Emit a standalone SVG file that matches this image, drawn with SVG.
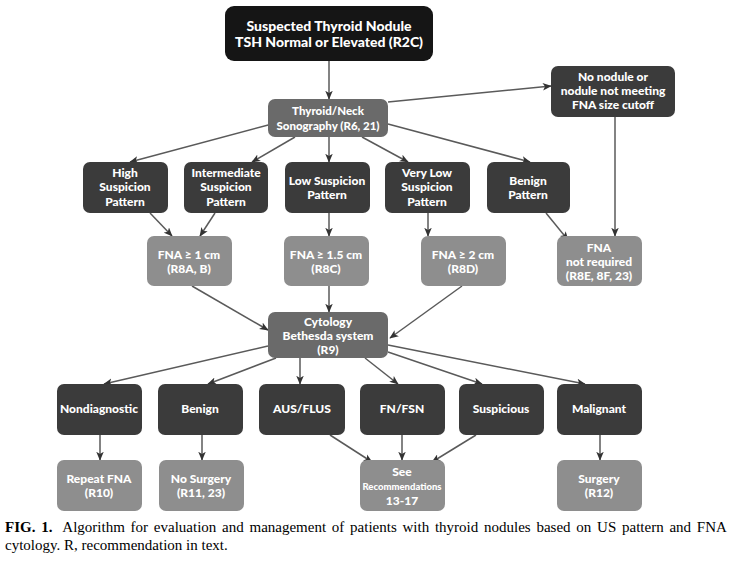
<svg xmlns="http://www.w3.org/2000/svg" width="731" height="567" viewBox="0 0 731 567">
<style>
.t{font-family:Lato,"Liberation Sans",sans-serif;font-weight:900;fill:#fff;text-anchor:middle;font-size:12px}
.big{font-size:14px}
.md{font-size:11.5px}
.sm{font-size:9.5px}
.blk{fill:#151515}
.mid{fill:#6a6a6a}
.drk{fill:#3b3b3b}
.lt{fill:#8e8e8e}
.c line{stroke:#5a5a5a;stroke-width:1.5;marker-end:url(#ah)}
.cap{font-family:"Liberation Serif",serif;font-size:15px;fill:#000}
</style>
<defs>
<marker id="ah" viewBox="0 0 12 10" refX="11" refY="5" markerWidth="9" markerHeight="8" orient="auto" markerUnits="userSpaceOnUse">
<path d="M0,0 L12,5 L0,10 L3,5 Z" fill="#333"/>
</marker>
</defs>
<rect width="731" height="567" fill="#fff"/>
<g class="c">
<line x1="329" y1="61" x2="329" y2="99"/>
<line x1="388" y1="102" x2="551" y2="86"/>
<line x1="272" y1="124" x2="130" y2="162"/>
<line x1="295" y1="137" x2="252" y2="162"/>
<line x1="329" y1="137" x2="329" y2="162"/>
<line x1="362" y1="137" x2="408" y2="162"/>
<line x1="388" y1="124" x2="530" y2="162"/>
<line x1="150" y1="213" x2="172" y2="236"/>
<line x1="215" y1="213" x2="200" y2="236"/>
<line x1="329" y1="213" x2="329" y2="236"/>
<line x1="428" y1="213" x2="428" y2="236"/>
<line x1="546" y1="213" x2="568" y2="240"/>
<line x1="615" y1="117" x2="615" y2="236"/>
<line x1="192" y1="286" x2="268" y2="330"/>
<line x1="329" y1="286" x2="329" y2="312"/>
<line x1="462" y1="286" x2="390" y2="338"/>
<line x1="268" y1="346" x2="104" y2="384"/>
<line x1="276" y1="358" x2="208" y2="384"/>
<line x1="300" y1="358" x2="300" y2="384"/>
<line x1="365" y1="358" x2="398" y2="384"/>
<line x1="388" y1="352" x2="482" y2="384"/>
<line x1="388" y1="345" x2="585" y2="384"/>
<line x1="100" y1="435" x2="100" y2="460"/>
<line x1="202" y1="435" x2="202" y2="460"/>
<line x1="330" y1="435" x2="372" y2="462"/>
<line x1="402" y1="435" x2="402" y2="460"/>
<line x1="476" y1="435" x2="432" y2="462"/>
<line x1="600" y1="435" x2="600" y2="460"/>
</g>
<g id="n-start"><rect class="blk" x="225" y="6" width="208" height="55" rx="9"/>
<text class="t big" x="329" y="31">Suspected Thyroid Nodule</text>
<text class="t big" x="329" y="47">TSH Normal or Elevated (R2C)</text></g>
<g id="n-sono"><rect class="mid" x="268" y="99" width="120" height="38" rx="7"/>
<text class="t md" x="328" y="115">Thyroid/Neck</text>
<text class="t md" x="328" y="130">Sonography (R6, 21)</text></g>
<g id="n-nonodule"><rect class="drk" x="551" y="66" width="124" height="51" rx="7"/>
<text class="t" x="613" y="81">No nodule or</text>
<text class="t" x="613" y="95">nodule not meeting</text>
<text class="t" x="613" y="109">FNA size cutoff</text></g>
<g id="n-high"><rect class="drk" x="83" y="162" width="85" height="51" rx="7"/>
<text class="t" x="125" y="177">High</text>
<text class="t" x="125" y="191">Suspicion</text>
<text class="t" x="125" y="206">Pattern</text></g>
<g id="n-int"><rect class="drk" x="184" y="162" width="84" height="51" rx="7"/>
<text class="t" x="226" y="177">Intermediate</text>
<text class="t" x="226" y="191">Suspicion</text>
<text class="t" x="226" y="206">Pattern</text></g>
<g id="n-low"><rect class="drk" x="285" y="162" width="85" height="51" rx="7"/>
<text class="t" x="327" y="185">Low Suspicion</text>
<text class="t" x="327" y="199">Pattern</text></g>
<g id="n-vlow"><rect class="drk" x="385" y="162" width="85" height="51" rx="7"/>
<text class="t" x="427" y="177">Very Low</text>
<text class="t" x="427" y="191">Suspicion</text>
<text class="t" x="427" y="206">Pattern</text></g>
<g id="n-benpat"><rect class="drk" x="487" y="162" width="83" height="51" rx="7"/>
<text class="t" x="528" y="185">Benign</text>
<text class="t" x="528" y="199">Pattern</text></g>
<g id="n-fna1"><rect class="lt" x="147" y="236" width="85" height="50" rx="7"/>
<text class="t" x="189" y="259">FNA ≥ 1 cm</text>
<text class="t" x="189" y="273">(R8A, B)</text></g>
<g id="n-fna15"><rect class="lt" x="284" y="236" width="85" height="50" rx="7"/>
<text class="t" x="326" y="259">FNA ≥ 1.5 cm</text>
<text class="t" x="326" y="273">(R8C)</text></g>
<g id="n-fna2"><rect class="lt" x="421" y="236" width="85" height="50" rx="7"/>
<text class="t" x="463" y="259">FNA ≥ 2 cm</text>
<text class="t" x="463" y="273">(R8D)</text></g>
<g id="n-fnanr"><rect class="lt" x="557" y="236" width="85" height="50" rx="7"/>
<text class="t" x="599" y="252">FNA</text>
<text class="t" x="599" y="266">not required</text>
<text class="t" x="599" y="280">(R8E, 8F, 23)</text></g>
<g id="n-cyto"><rect class="mid" x="268" y="312" width="120" height="46" rx="7"/>
<text class="t" x="328" y="326">Cytology</text>
<text class="t" x="328" y="340">Bethesda system</text>
<text class="t" x="328" y="354">(R9)</text></g>
<g id="n-nondiag"><rect class="drk" x="57" y="384" width="85" height="51" rx="7"/>
<text class="t" x="99" y="413">Nondiagnostic</text></g>
<g id="n-benign"><rect class="drk" x="158" y="384" width="85" height="51" rx="7"/>
<text class="t" x="200" y="413">Benign</text></g>
<g id="n-aus"><rect class="drk" x="259" y="384" width="86" height="51" rx="7"/>
<text class="t" x="302" y="413">AUS/FLUS</text></g>
<g id="n-fn"><rect class="drk" x="360" y="384" width="85" height="51" rx="7"/>
<text class="t" x="402" y="413">FN/FSN</text></g>
<g id="n-susp"><rect class="drk" x="459" y="384" width="85" height="51" rx="7"/>
<text class="t" x="501" y="413">Suspicious</text></g>
<g id="n-malig"><rect class="drk" x="557" y="384" width="85" height="51" rx="7"/>
<text class="t" x="599" y="413">Malignant</text></g>
<g id="n-repeat"><rect class="lt" x="57" y="460" width="85" height="51" rx="7"/>
<text class="t" x="99" y="483">Repeat FNA</text>
<text class="t" x="99" y="497">(R10)</text></g>
<g id="n-nosurg"><rect class="lt" x="159" y="460" width="85" height="51" rx="7"/>
<text class="t" x="201" y="483">No Surgery</text>
<text class="t" x="201" y="497">(R11, 23)</text></g>
<g id="n-see"><rect class="lt" x="360" y="460" width="85" height="51" rx="7"/>
<text class="t" x="402" y="476">See</text>
<text class="t sm" x="402" y="490">Recommendations</text>
<text class="t" x="402" y="505">13-17</text></g>
<g id="n-surg"><rect class="lt" x="557" y="460" width="85" height="51" rx="7"/>
<text class="t" x="599" y="483">Surgery</text>
<text class="t" x="599" y="497">(R12)</text></g>
<text class="cap" x="5" y="532" word-spacing="2"><tspan font-weight="bold">FIG. 1.</tspan><tspan dx="5"> Algorithm for evaluation and management of patients with thyroid nodules based on US pattern and FNA</tspan></text>
<text class="cap" x="5" y="550">cytology. R, recommendation in text.</text>
</svg>
